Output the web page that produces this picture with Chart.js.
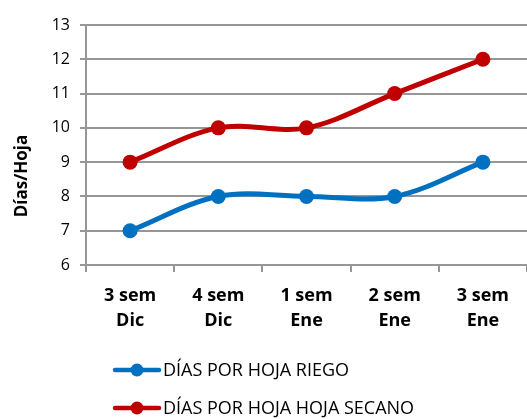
<!DOCTYPE html>
<html>
<head>
<meta charset="utf-8">
<script src="https://cdn.jsdelivr.net/npm/chart.js@4/dist/chart.umd.min.js"></script>
<style>
html,body{margin:0;padding:0;background:#fff;}
#wrap{width:527px;height:419px;position:relative;}
</style>
</head>
<body>
<div id="wrap"><canvas id="c" width="527" height="419"></canvas></div>
<script>
const categories = [["3 sem","Dic"],["4 sem","Dic"],["1 sem","Ene"],["2 sem","Ene"],["3 sem","Ene"]];
const riego = [7, 8, 8, 8, 9];
const secano = [9, 10, 10, 11, 12];
const seriesNames = ["DÍAS POR HOJA RIEGO", "DÍAS POR HOJA HOJA SECANO"];
const yTitle = "Días/Hoja";

const FONT = "'Open Sans', sans-serif";
const BLUE = "#0070C0";
const RED = "#C00000";
const GRID = "#969696";

const extras = {
  id: 'extras',
  afterDraw(chart) {
    const ctx = chart.ctx;
    ctx.save();
    ctx.fillStyle = '#000';
    ctx.font = "bold 17px " + FONT;
    ctx.textAlign = 'center';
    ctx.textBaseline = 'middle';
    ctx.translate(22, 176);
    ctx.rotate(-Math.PI / 2);
    ctx.fillText(yTitle, 0, 0);
    ctx.restore();
    ctx.save();
    chart.data.datasets.forEach((ds, i) => {
      const y = 370 + i * 38;
      ctx.strokeStyle = ds.borderColor;
      ctx.lineWidth = 4.5;
      ctx.lineCap = 'round';
      ctx.beginPath();
      ctx.moveTo(115, y);
      ctx.lineTo(159, y);
      ctx.stroke();
      ctx.fillStyle = ds.backgroundColor;
      ctx.beginPath();
      ctx.arc(137, y, 6.5, 0, Math.PI * 2);
      ctx.fill();
      ctx.fillStyle = '#000';
      ctx.font = "18px " + FONT;
      ctx.textAlign = 'left';
      ctx.textBaseline = 'middle';
      ctx.fillText(ds.label, 163, y + 1);
    });
    ctx.restore();
  }
};

new Chart(document.getElementById('c'), {
  type: 'line',
  data: {
    labels: categories,
    datasets: [
      { label: seriesNames[0], data: riego, borderColor: BLUE, backgroundColor: BLUE,
        borderWidth: 5, pointRadius: 7.5, pointHoverRadius: 7.5, tension: 0.35, pointBorderWidth: 0 },
      { label: seriesNames[1], data: secano, borderColor: RED, backgroundColor: RED,
        borderWidth: 5, pointRadius: 7.5, pointHoverRadius: 7.5, tension: 0.35, pointBorderWidth: 0 }
    ]
  },
  options: {
    responsive: false,
    animation: false,
    events: [],
    layout: { autoPadding: false, padding: { left: 0, top: 25, right: 0, bottom: 79 } },
    plugins: { legend: { display: false }, tooltip: { enabled: false } },
    scales: {
      x: {
        offset: true,
        grid: { display: true, offset: true, drawOnChartArea: false, drawTicks: true, tickLength: 7, color: GRID, lineWidth: 2 },
        border: { display: true, color: GRID, width: 2 },
        ticks: { color: '#000', font: { family: FONT, size: 18, weight: 'bold', lineHeight: 1.35 }, padding: 12, maxRotation: 0 },
        afterFit(s) { s.height = 75; s.paddingLeft = 0; s.paddingRight = 0; }
      },
      y: {
        min: 6, max: 13,
        grid: { color: GRID, lineWidth: 2, tickLength: 6 },
        border: { display: true, color: GRID, width: 2 },
        ticks: { stepSize: 1, color: '#000', font: { family: FONT, size: 16 }, padding: 10 },
        afterFit(s) { s.width = 86; }
      }
    }
  },
  plugins: [extras]
});
</script>
</body>
</html>
